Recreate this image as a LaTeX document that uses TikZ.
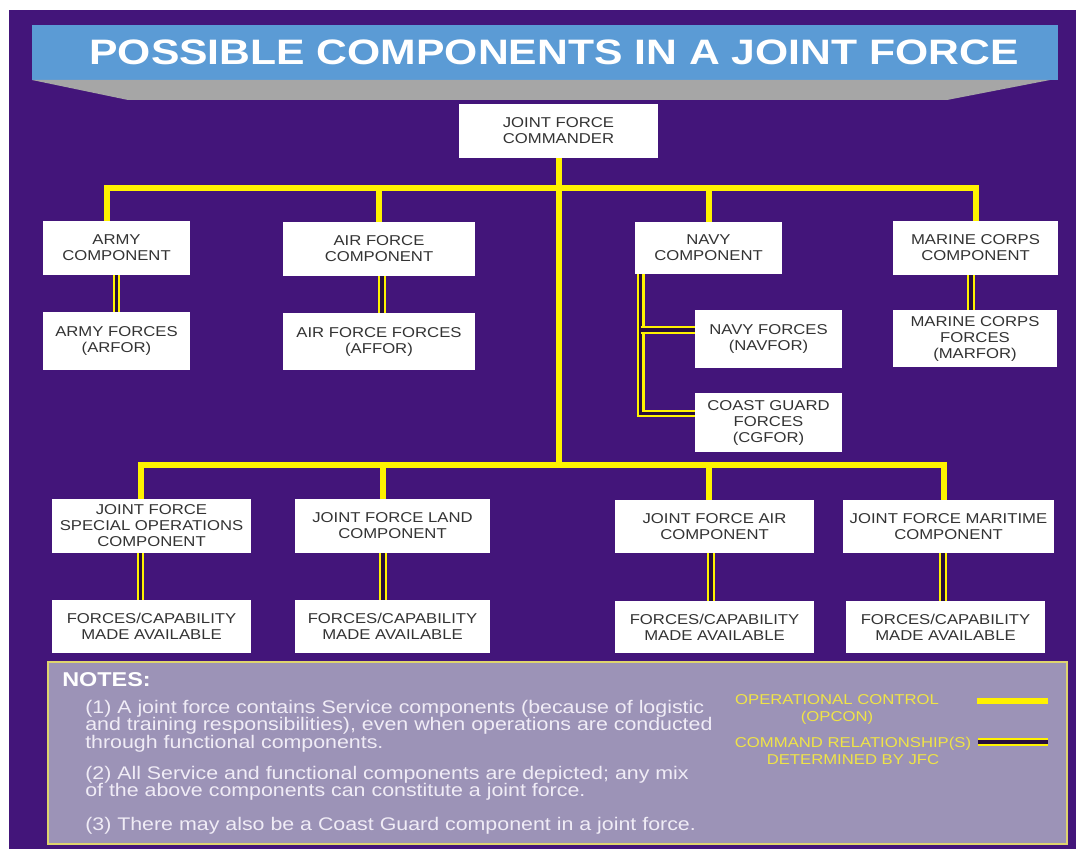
\documentclass[tikz,border=0pt]{standalone}
\usepackage{fontspec}
\setmainfont{Liberation Sans}[FakeStretch=1.17]
\usepackage{xcolor}
\usepackage{tikz}
\usetikzlibrary{calc}

\definecolor{bgpurple}{RGB}{67,21,122}
\definecolor{titleblue}{RGB}{91,155,213}
\definecolor{bannergray}{RGB}{166,166,166}
\definecolor{noteslilac}{RGB}{156,147,183}
\definecolor{notesedge}{RGB}{222,212,110}
\definecolor{opyellow}{RGB}{255,242,0}
\definecolor{relgap}{RGB}{40,14,60}
\definecolor{textgray}{RGB}{51,51,51}
\definecolor{legendyellow}{RGB}{240,228,70}
\definecolor{notestext}{RGB}{240,236,246}

\begin{document}
\begin{tikzpicture}[x=0.75pt,y=-0.75pt,line join=miter,
  box/.style={fill=white,text=textgray,align=center,inner sep=0pt,
    font=\fontsize{10.7pt}{12pt}\selectfont},
  wh/.style 2 args={minimum width=#1*0.75pt,minimum height=#2*0.75pt},
  opcon/.style={draw=opyellow,line width=4.5pt},
  cmdrel/.style={draw=opyellow,line width=1.7pt,double=relgap,double distance=2.4pt},
  notetext/.style={anchor=north west,inner sep=0pt,align=left,text=notestext,
    font=\fontsize{13.7pt}{13.3pt}\selectfont},
  legendtext/.style={anchor=north,inner sep=0pt,align=center,text=legendyellow,
    font=\fontsize{10.7pt}{12.75pt}\selectfont}]
  \useasboundingbox (0,0) rectangle (1076,849);
  \fill[white] (0,0) rectangle (1076,849);
  \fill[bgpurple] (9,10) rectangle (1076,849);
  % title banner
  \fill[titleblue] (32,25) rectangle (1058,80);
  \fill[bannergray] (32,80) -- (1050,80) -- (947,100) -- (128,100) -- cycle;
  \node[text=white,font=\bfseries\fontsize{26.5pt}{28pt}\selectfont] (title) at (554,52)
    {\scalebox{1.032}[1]{POSSIBLE COMPONENTS IN A JOINT FORCE}};
  % commander and service components
  \node[box,wh={199}{54}] (jfc) at (558.5,131) {JOINT FORCE\\COMMANDER};
  \node[box,wh={147}{54}] (army) at (116.5,248) {ARMY\\COMPONENT};
  \node[box,wh={147}{58}] (armyf) at (116.5,341) {ARMY FORCES\\(ARFOR)};
  \node[box,wh={192}{54}] (airc) at (379,249) {AIR FORCE\\COMPONENT};
  \node[box,wh={192}{57}] (airf) at (379,341.5) {AIR FORCE FORCES\\(AFFOR)};
  \node[box,wh={147}{52}] (navy) at (708.5,248) {NAVY\\COMPONENT};
  \node[box,wh={147}{58}] (navyf) at (768.5,339) {NAVY FORCES\\(NAVFOR)};
  \node[box,wh={147}{59}] (cgf) at (768.5,422.5) {COAST GUARD\\FORCES\\(CGFOR)};
  \node[box,wh={165}{54}] (marine) at (975.5,248) {MARINE CORPS\\COMPONENT};
  \node[box,wh={164}{57}] (marinef) at (975,338.5) {MARINE CORPS\\FORCES\\(MARFOR)};
  % functional components
  \node[box,wh={199}{54}] (jfsoc) at (151.5,526) {JOINT FORCE\\SPECIAL OPERATIONS\\COMPONENT};
  \node[box,wh={195}{54}] (jflcc) at (392.5,526) {JOINT FORCE LAND\\COMPONENT};
  \node[box,wh={199}{53}] (jfacc) at (714.5,526.5) {JOINT FORCE AIR\\COMPONENT};
  \node[box,wh={211}{53}] (jfmcc) at (948.5,526.5) {JOINT FORCE MARITIME\\COMPONENT};
  \node[box,wh={199}{53}] (fcsoc) at (151.5,626.5) {FORCES/CAPABILITY\\MADE AVAILABLE};
  \node[box,wh={195}{53}] (fclcc) at (392.5,626.5) {FORCES/CAPABILITY\\MADE AVAILABLE};
  \node[box,wh={199}{52}] (fcacc) at (714.5,627) {FORCES/CAPABILITY\\MADE AVAILABLE};
  \node[box,wh={199}{52}] (fcmcc) at (945.5,627) {FORCES/CAPABILITY\\MADE AVAILABLE};
  % operational control
  \coordinate (tbus) at (560,188);
  \coordinate (lbus) at (560,465);
  \coordinate (lc) at ($(jflcc.north)+(-10,0)$);
  \draw[opcon] (jfc.south) -- (jfc.south |- lbus);
  \draw[opcon] ($(army.north)+(-10,0)$) |- (tbus) -| (marine.north);
  \draw[opcon] (airc.north) -- (airc.north |- tbus);
  \draw[opcon] (navy.north) -- (navy.north |- tbus);
  \draw[opcon] ($(jfsoc.north)+(-11,0)$) |- (lbus) -| ($(jfmcc.north)+(-5,0)$);
  \draw[opcon] (lc) -- (lc |- lbus);
  \draw[opcon] ($(jfacc.north)+(-6,0)$) -- ($(jfacc.north)+(-6,-35)$);
  % command relationships
  \draw[cmdrel] (army) -- (armyf);
  \draw[cmdrel] ($(airc.south)+(3,0)$) -- ($(airf.north)+(3,0)$);
  \draw[cmdrel] ($(marine.south)+(-4.5,0)$) -- ($(marinef.north)+(-4,0)$);
  \coordinate (nv) at ($(navy.south west)+(6,0)$);
  \coordinate (nb1) at ($(navyf.west)+(0,-9)$);
  \coordinate (nb2) at ($(cgf.west)+(0,-9)$);
  \draw[cmdrel] (nv) |- (nb2);
  \draw[cmdrel] (nv |- nb1) -- (nb1);
  \draw[cmdrel] ($(jfsoc.south)+(-11,0)$) -- ($(fcsoc.north)+(-11,0)$);
  \draw[cmdrel] ($(jflcc.south)+(-9.5,0)$) -- ($(fclcc.north)+(-9.5,0)$);
  \draw[cmdrel] ($(jfacc.south)+(-3.5,0)$) -- ($(fcacc.north)+(-3.5,0)$);
  \draw[cmdrel] ($(jfmcc.south)+(-5.5,0)$) -- ($(fcmcc.north)+(-2.5,0)$);
  % notes
  \draw[notesedge,line width=1.2pt,fill=noteslilac] (48,662) rectangle (1067,844);
  \node[anchor=base west,inner sep=0pt,text=white,font=\bfseries\fontsize{15pt}{16pt}\selectfont]
    (notes) at (62,686) {NOTES:};
  \node[notetext] (note1) at (85,699.5) {(1) A joint force contains Service components (because of logistic\\
    and training responsibilities), even when operations are conducted\\
    through functional components.};
  \node[notetext] (note2) at (85,765.5) {(2) All Service and functional components are depicted; any mix\\
    of the above components can constitute a joint force.};
  \node[notetext] (note3) at (85,816.5) {(3) There may also be a Coast Guard component in a joint force.};
  % legend
  \node[legendtext] (opleg) at (837,694) {OPERATIONAL CONTROL\\(OPCON)};
  \node[legendtext] (relleg) at (853,736.5) {COMMAND RELATIONSHIP(S)\\DETERMINED BY JFC};
  \coordinate (opA) at (977,701);
  \coordinate (opB) at (1048,701);
  \coordinate (relA) at (978,742);
  \coordinate (relB) at (1048,742);
  \draw[opcon] (opA) -- (opB);
  \draw[cmdrel] (relA) -- (relB);
\end{tikzpicture}
\end{document}
